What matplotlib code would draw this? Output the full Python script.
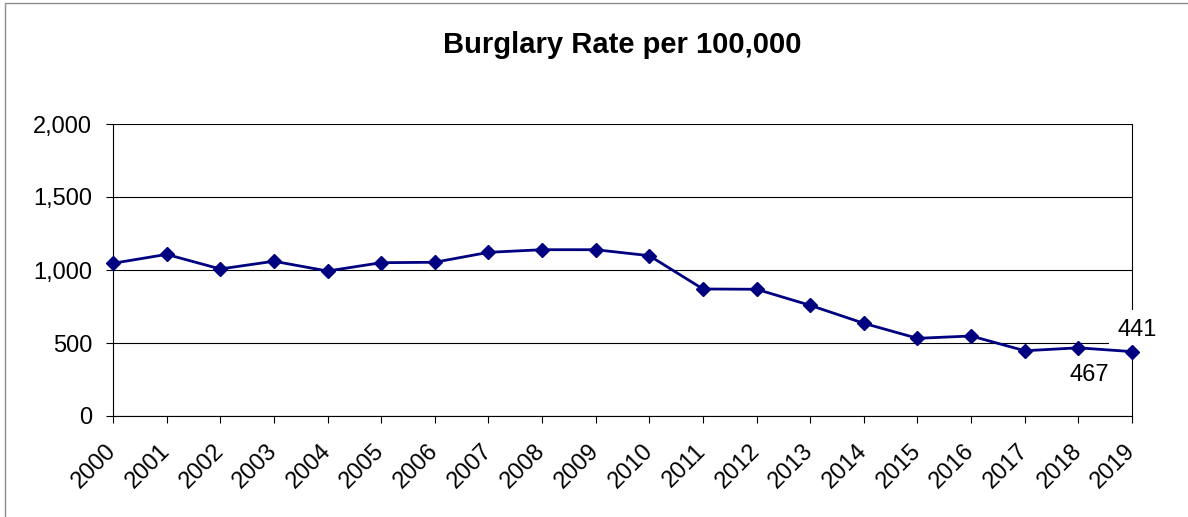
import matplotlib
matplotlib.use("Agg")
import matplotlib.pyplot as plt
from matplotlib.patches import Rectangle
from matplotlib.ticker import FuncFormatter

years = list(range(2000, 2020))
rates = [1046, 1107, 1007, 1060, 993, 1050, 1053, 1121, 1139, 1139,
         1098, 870, 868, 758, 635, 532, 548, 447, 467, 441]
y_ticks = [0, 500, 1000, 1500, 2000]
title = "Burglary Rate per 100,000"

plt.rcParams['font.family'] = ['Liberation Sans', 'DejaVu Sans']

W, H = 1188, 517
fig = plt.figure(figsize=(W / 100, H / 100), dpi=100)
fig.patch.set_facecolor('white')

# thin grey frame around the chart
fig.patches.append(Rectangle((5 / W, -0.05), 1.2, 1 - 3 / H + 0.05,
                             transform=fig.transFigure, fill=False,
                             edgecolor='#8c8c8c', linewidth=1.0))

L, R, T, B = 113, 1132, 124, 416
ax = fig.add_axes([L / W, 1 - B / H, (R - L) / W, (B - T) / H])

ax.plot(years, rates, color='#000080', linewidth=2.0, marker='D',
        markersize=6.8, markerfacecolor='#000080', markeredgecolor='#000080',
        zorder=5, clip_on=False)

ax.set_xlim(years[0], years[-1])
ax.set_ylim(y_ticks[0], y_ticks[-1])
ax.set_yticks(y_ticks)
ax.yaxis.set_major_formatter(FuncFormatter(lambda v, p: f"{int(v):,}"))
ax.set_xticks(years)
ax.set_xticklabels([str(y) for y in years])

ax.grid(axis='y', color='black', linewidth=0.8, zorder=0)
ax.set_axisbelow(True)
for s in ax.spines.values():
    s.set_color('black')
    s.set_linewidth(0.8)
ax.spines['top'].set_visible(False)

ax.tick_params(axis='both', direction='out', length=5, width=0.8,
               color='black', labelsize=17, labelcolor='black')
ax.tick_params(axis='y', pad=10)
ax.tick_params(axis='x', pad=18)
plt.setp(ax.get_xticklabels(), rotation=45, ha='right', va='center',
         rotation_mode='anchor')

# value labels on the last two points
ax.annotate(f"{rates[-2]}", (years[-2], rates[-2]), xytext=(11, -27),
            textcoords='offset pixels', ha='center', va='center',
            fontsize=17, zorder=3, annotation_clip=False)
ax.annotate(f"{rates[-1]}", (years[-1], rates[-1]), xytext=(5, 22),
            textcoords='offset pixels', ha='center', va='center',
            fontsize=17, zorder=3, annotation_clip=False,
            bbox=dict(boxstyle='square,pad=0.35', fc='white', ec='none'))

fig.text((L + R) / 2 / W, 1 - 45 / H, title, ha='center', va='center',
         fontsize=21, fontweight='bold')

fig.savefig('out.png', dpi=100)
